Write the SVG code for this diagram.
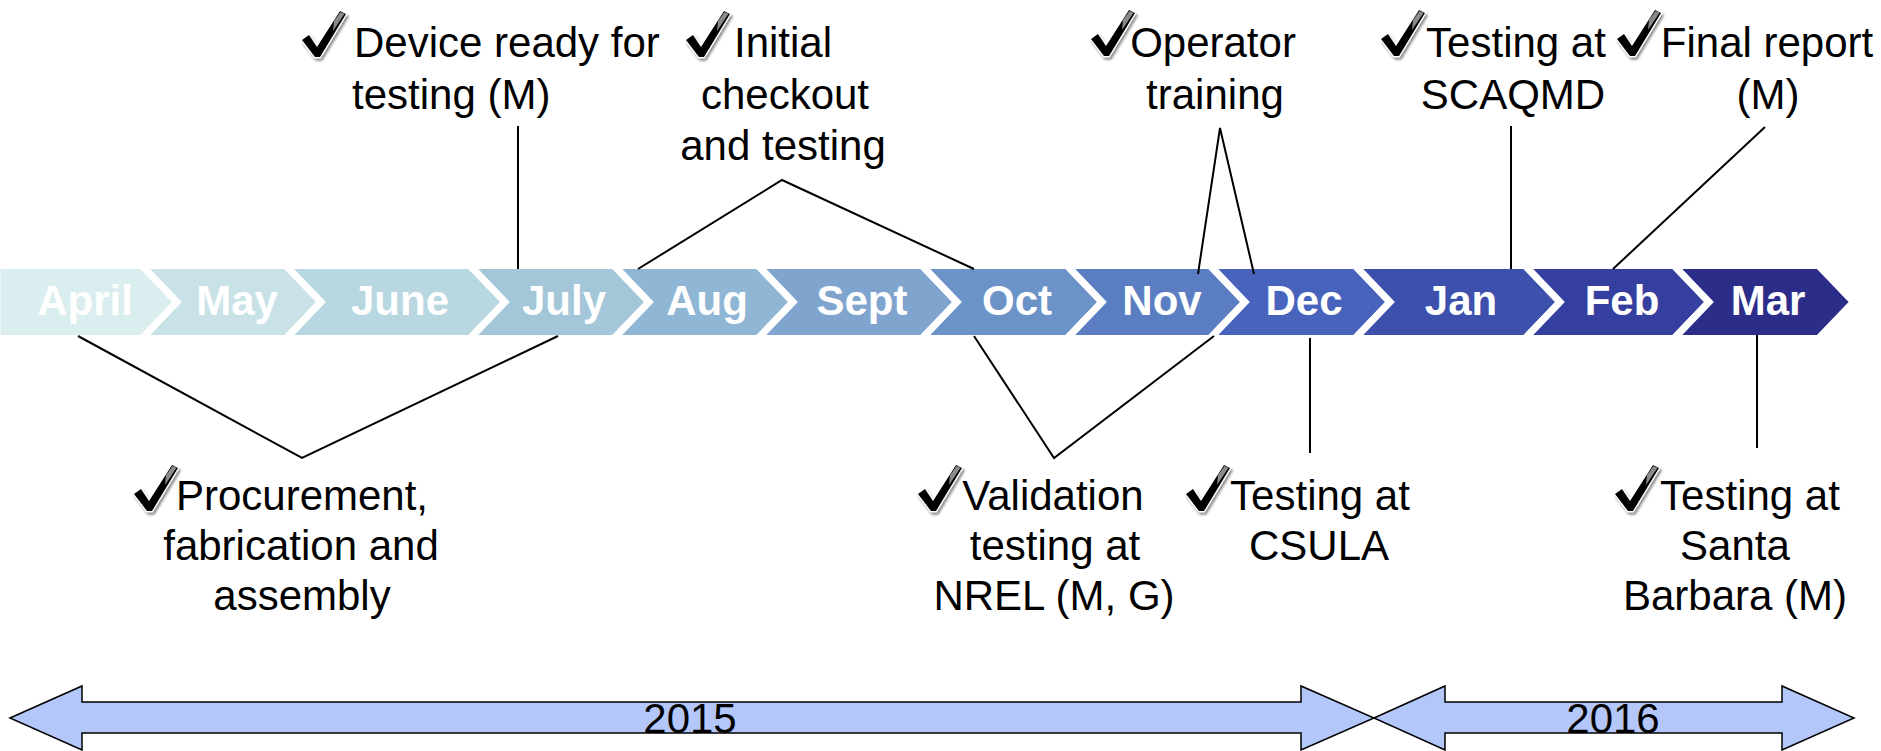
<svg xmlns="http://www.w3.org/2000/svg" xmlns:xlink="http://www.w3.org/1999/xlink" width="1881" height="751" viewBox="0 0 1881 751">
<style>
.chev{stroke:#fff;stroke-width:7;stroke-linejoin:miter}
.mon{font-family:"Liberation Sans",Arial,sans-serif;font-weight:bold;font-size:42px;fill:#fff;text-anchor:middle}
.lbl{font-family:"Liberation Sans",Arial,sans-serif;font-size:42px;fill:#000}
.c{text-anchor:middle}
.conn{fill:none;stroke:#000;stroke-width:2}
.yr{fill:#B4C7FA;stroke:#000;stroke-width:1.5;stroke-linejoin:miter}
.yrt{font-family:"Liberation Sans",Arial,sans-serif;font-size:42px;fill:#000;text-anchor:middle}
</style>
<defs>
<filter id="sh" x="-30%" y="-30%" width="170%" height="170%">
<feDropShadow dx="1.5" dy="2.5" stdDeviation="1.3" flood-color="#000" flood-opacity="0.45"/>
</filter>
<g id="check">
<path d="M0,30 L7,25 L15,37 L38,1 L44,4 L18,47 L13,47 Z" fill="#000" stroke="#fff" stroke-width="2.5" paint-order="stroke" stroke-linejoin="round"/>
<path d="M32,11 L38.5,2 L42.5,3.8 L31,21 Z" fill="#8a8a8a"/>
</g>
</defs>
<rect width="1881" height="751" fill="#fff"/>

<g id="months">
<g id="m-apr"><polygon class="chev" fill="#DAEDEF" points="-3,265.5 142,265.5 177,302 142,338.5 -3,338.5"/><text class="mon" x="85" y="315">April</text></g>
<g id="m-may"><polygon class="chev" fill="#C9E2E7" points="142,265.5 286,265.5 321,302 286,338.5 142,338.5 177,302"/><text class="mon" x="237" y="315">May</text></g>
<g id="m-jun"><polygon class="chev" fill="#B8D7E0" points="286,265.5 470,265.5 505,302 470,338.5 286,338.5 321,302"/><text class="mon" x="400" y="315">June</text></g>
<g id="m-jul"><polygon class="chev" fill="#A3C6D9" points="470,265.5 614,265.5 649,302 614,338.5 470,338.5 505,302"/><text class="mon" x="564" y="315">July</text></g>
<g id="m-aug"><polygon class="chev" fill="#8FB6D4" points="614,265.5 758,265.5 793,302 758,338.5 614,338.5 649,302"/><text class="mon" x="707" y="315">Aug</text></g>
<g id="m-sep"><polygon class="chev" fill="#7FA5CF" points="758,265.5 922,265.5 957,302 922,338.5 758,338.5 793,302"/><text class="mon" x="862" y="315">Sept</text></g>
<g id="m-oct"><polygon class="chev" fill="#6C93C8" points="922,265.5 1067,265.5 1102,302 1067,338.5 922,338.5 957,302"/><text class="mon" x="1017" y="315">Oct</text></g>
<g id="m-nov"><polygon class="chev" fill="#5B7EC2" points="1067,265.5 1210,265.5 1245,302 1210,338.5 1067,338.5 1102,302"/><text class="mon" x="1162" y="315">Nov</text></g>
<g id="m-dec"><polygon class="chev" fill="#4863BC" points="1210,265.5 1355,265.5 1390,302 1355,338.5 1210,338.5 1245,302"/><text class="mon" x="1304" y="315">Dec</text></g>
<g id="m-jan"><polygon class="chev" fill="#3D50AC" points="1355,265.5 1525,265.5 1560,302 1525,338.5 1355,338.5 1390,302"/><text class="mon" x="1461" y="315">Jan</text></g>
<g id="m-feb"><polygon class="chev" fill="#353F9F" points="1525,265.5 1674,265.5 1709,302 1674,338.5 1525,338.5 1560,302"/><text class="mon" x="1622" y="315">Feb</text></g>
<g id="m-mar"><polygon class="chev" fill="#2C2D89" points="1674,265.5 1818.5,265.5 1853.5,302 1818.5,338.5 1674,338.5 1709,302"/><text class="mon" x="1768" y="315">Mar</text></g>
</g>

<g id="connectors">
<polyline class="conn" points="518,126 518,269"/>
<polyline class="conn" points="638,269 782,180 974,269"/>
<polyline class="conn" points="1198,274 1220,128 1254,274"/>
<polyline class="conn" points="1511,126 1511,269"/>
<polyline class="conn" points="1765,127 1613,269"/>
<polyline class="conn" points="78,336 302,458 558,336"/>
<polyline class="conn" points="974,336 1054,458 1214,336"/>
<polyline class="conn" points="1310,338 1310,453"/>
<polyline class="conn" points="1757,335 1757,448"/>
</g>

<g id="n-device">
<use xlink:href="#check" href="#check" x="302" y="10" filter="url(#sh)"/>
<text class="lbl" x="354" y="57">Device ready for</text>
<text class="lbl" x="352" y="108.5">testing (M)</text>
</g>
<g id="n-initial">
<use xlink:href="#check" href="#check" x="686" y="10" filter="url(#sh)"/>
<text class="lbl c" x="783" y="57">Initial</text>
<text class="lbl c" x="785" y="108.5">checkout</text>
<text class="lbl c" x="783" y="160">and testing</text>
</g>
<g id="n-operator">
<use xlink:href="#check" href="#check" x="1091" y="9" filter="url(#sh)"/>
<text class="lbl c" x="1213" y="57">Operator</text>
<text class="lbl c" x="1215" y="108.5">training</text>
</g>
<g id="n-scaqmd">
<use xlink:href="#check" href="#check" x="1381" y="9" filter="url(#sh)"/>
<text class="lbl c" x="1516" y="57">Testing at</text>
<text class="lbl c" x="1513" y="108.5">SCAQMD</text>
</g>
<g id="n-final">
<use xlink:href="#check" href="#check" x="1617" y="9" filter="url(#sh)"/>
<text class="lbl c" x="1767" y="57">Final report</text>
<text class="lbl c" x="1768" y="108.5">(M)</text>
</g>
<g id="n-procure">
<use xlink:href="#check" href="#check" x="134" y="464" filter="url(#sh)"/>
<text class="lbl c" x="302" y="510">Procurement,</text>
<text class="lbl c" x="301" y="560">fabrication and</text>
<text class="lbl c" x="302" y="610">assembly</text>
</g>
<g id="n-validation">
<use xlink:href="#check" href="#check" x="918" y="464" filter="url(#sh)"/>
<text class="lbl c" x="1053" y="510">Validation</text>
<text class="lbl c" x="1055" y="560">testing at</text>
<text class="lbl c" x="1054" y="610">NREL (M, G)</text>
</g>
<g id="n-csula">
<use xlink:href="#check" href="#check" x="1186" y="464" filter="url(#sh)"/>
<text class="lbl c" x="1320" y="510">Testing at</text>
<text class="lbl c" x="1319" y="560">CSULA</text>
</g>
<g id="n-santa">
<use xlink:href="#check" href="#check" x="1615" y="464" filter="url(#sh)"/>
<text class="lbl c" x="1750" y="510">Testing at</text>
<text class="lbl c" x="1735" y="560">Santa</text>
<text class="lbl c" x="1735" y="610">Barbara (M)</text>
</g>

<g id="y2015">
<polygon class="yr" points="10,718 82,686 82,702 1301,702 1301,686 1374,718 1301,750 1301,733 82,733 82,750"/>
<text class="yrt" x="690" y="733">2015</text>
</g>
<g id="y2016">
<polygon class="yr" points="1374,718 1445,686 1445,702 1782,702 1782,686 1854,718 1782,750 1782,733 1445,733 1445,750"/>
<text class="yrt" x="1613" y="733">2016</text>
</g>
</svg>
